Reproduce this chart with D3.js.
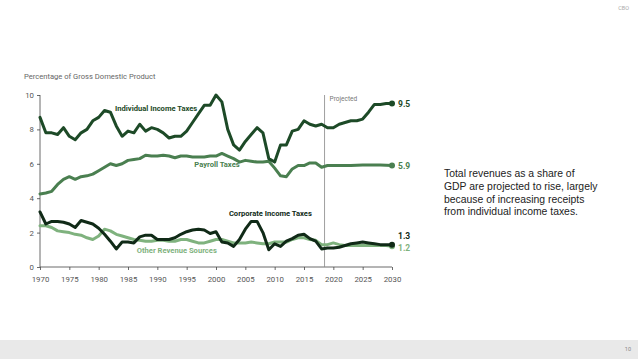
<!DOCTYPE html>
<html><head><meta charset="utf-8">
<script src="https://cdn.jsdelivr.net/npm/d3@7"></script>
<style>
html,body{margin:0;padding:0;background:#fff;}
svg{display:block;}
</style></head>
<body>
<svg id="c" width="638" height="359"></svg>
<script>
const years = d3.range(1970, 2031);
const individual = [8.7,7.8,7.8,7.7,8.1,7.6,7.4,7.8,8.0,8.5,8.7,9.1,9.0,8.2,7.6,7.9,7.8,8.3,7.9,8.1,8.0,7.8,7.5,7.6,7.6,7.9,8.4,8.9,9.4,9.4,10.0,9.6,8.0,7.1,6.8,7.3,7.7,8.1,7.8,6.3,6.1,7.1,7.1,7.9,8.0,8.5,8.3,8.2,8.3,8.1,8.1,8.3,8.4,8.5,8.5,8.6,9.0,9.45,9.45,9.5,9.5];
const payroll = [4.25,4.3,4.4,4.8,5.1,5.25,5.1,5.25,5.3,5.4,5.6,5.8,6.0,5.9,6.0,6.2,6.25,6.3,6.5,6.45,6.45,6.5,6.45,6.35,6.45,6.45,6.4,6.4,6.4,6.45,6.45,6.6,6.45,6.3,6.1,6.2,6.15,6.1,6.1,6.15,5.75,5.3,5.25,5.7,5.9,5.9,6.05,6.05,5.8,5.9,5.9,5.9,5.9,5.9,5.92,5.93,5.93,5.93,5.93,5.92,5.9];
const corporate = [3.2,2.5,2.65,2.65,2.6,2.5,2.3,2.7,2.6,2.5,2.25,1.9,1.5,1.05,1.45,1.45,1.4,1.75,1.85,1.85,1.6,1.6,1.6,1.7,1.9,2.05,2.15,2.2,2.15,1.95,2.05,1.45,1.4,1.2,1.6,2.2,2.65,2.65,2.0,1.0,1.35,1.2,1.5,1.65,1.85,1.9,1.65,1.5,1.05,1.1,1.1,1.15,1.25,1.35,1.4,1.45,1.4,1.35,1.3,1.3,1.3];
const other = [2.4,2.4,2.3,2.1,2.05,2.0,1.9,1.85,1.7,1.6,1.8,2.2,2.1,1.9,1.8,1.7,1.6,1.55,1.5,1.5,1.55,1.55,1.5,1.5,1.6,1.6,1.5,1.4,1.4,1.5,1.6,1.6,1.5,1.4,1.4,1.4,1.45,1.4,1.35,1.35,1.45,1.45,1.45,1.6,1.7,1.7,1.6,1.55,1.3,1.3,1.4,1.3,1.25,1.25,1.25,1.25,1.25,1.25,1.25,1.25,1.2];
const yTicks = [0,2,4,6,8,10];
const xTicks = d3.range(1970, 2031, 5);
const projectedYear = 2018.5;

const series = [
  {name:"Payroll Taxes", values:payroll, color:"#4a7f50", end:"5.9"},
  {name:"Other Revenue Sources", values:other, color:"#7fb27e", end:"1.2"},
  {name:"Corporate Income Taxes", values:corporate, color:"#102a17", end:"1.3"},
  {name:"Individual Income Taxes", values:individual, color:"#1d4a27", end:"9.5"}
];

const svg = d3.select("#c");
const x = d3.scaleLinear().domain([1970, 2030]).range([40, 392]);
const y = d3.scaleLinear().domain([0, 10]).range([267, 95]);
const font = "Roboto, 'Open Sans', sans-serif";

// footer band
svg.append("rect").attr("x",0).attr("y",340).attr("width",638).attr("height",19).attr("fill","#e9e9e9");
svg.append("text").attr("x",631).attr("y",351).attr("text-anchor","end").attr("font-family",font).attr("font-size",5.5).attr("fill","#888").text("10");
svg.append("text").attr("x",629).attr("y",10).attr("text-anchor","end").attr("font-family",font).attr("font-size",5.5).attr("fill","#aaa").text("CBO");

// title
svg.append("text").attr("x",24).attr("y",79).attr("font-family",font).attr("font-size",7.6).attr("fill","#666").text("Percentage of Gross Domestic Product");

// axes
const gy = svg.append("g").attr("transform","translate(40,0)")
  .call(d3.axisLeft(y).tickValues(yTicks).tickSize(3).tickPadding(3).tickFormat(d3.format("d")));
const gx = svg.append("g").attr("transform","translate(0,267)")
  .call(d3.axisBottom(x).tickValues(xTicks).tickSize(3).tickPadding(6).tickFormat(d3.format("d")));
[gy, gx].forEach(g => {
  g.select(".domain").attr("stroke","#444").attr("stroke-width",0.8);
  g.selectAll(".tick line").attr("stroke","#444").attr("stroke-width",0.8);
  g.selectAll(".tick text").attr("font-family",font).attr("font-size",7.8).attr("fill","#555");
});
gy.select(".domain").attr("d","M0,267V95");
gx.select(".domain").attr("d","M40,0H392");

// projected line
svg.append("line").attr("x1",x(projectedYear)).attr("x2",x(projectedYear)).attr("y1",y(10)).attr("y2",y(0))
  .attr("stroke","#888").attr("stroke-width",0.8);
svg.append("text").attr("x",x(projectedYear)+5).attr("y",101).attr("font-family",font).attr("font-size",6.5).attr("fill","#777").text("Projected");

// lines
const line = d3.line().x((d,i)=>x(years[i])).y(d=>y(d)).curve(d3.curveLinear);
series.forEach(s => {
  svg.append("path").datum(s.values).attr("d",line).attr("fill","none")
    .attr("stroke",s.color).attr("stroke-width",3).attr("stroke-linejoin","round").attr("stroke-linecap","round");
  svg.append("circle").attr("cx",x(2030)).attr("cy",y(s.values[s.values.length-1])).attr("r",3).attr("fill",s.color);
});

// end labels
const endLabels = [
  {t:"9.5", v:9.5, dy:3, color:"#1d4a27"},
  {t:"5.9", v:5.9, dy:3, color:"#4a7f50"},
  {t:"1.3", v:1.3, dy:-6, color:"#102a17"},
  {t:"1.2", v:1.2, dy:4.5, color:"#7fb27e"}
];
endLabels.forEach(l => {
  svg.append("text").attr("x",398).attr("y",y(l.v)+l.dy).attr("font-family",font).attr("font-weight","bold")
    .attr("font-size",8.5).attr("fill",l.color).text(l.t);
});

// series labels
const labels = [
  {t:"Individual Income Taxes", yr:1982.8, v:9.07, color:"#1d4a27"},
  {t:"Payroll Taxes", yr:1996.3, v:5.81, color:"#4a7f50"},
  {t:"Corporate Income Taxes", yr:2002.2, v:2.97, color:"#102a17"},
  {t:"Other Revenue Sources", yr:1986.5, v:0.81, color:"#7fb27e"}
];
labels.forEach(l => {
  svg.append("text").attr("x",x(l.yr)).attr("y",y(l.v)).attr("font-family",font).attr("font-weight","bold")
    .attr("font-size",7.6).attr("fill",l.color).text(l.t);
});

// side text
const side = ["Total revenues as a share of","GDP are projected to rise, largely","because of increasing receipts","from individual income taxes."];
const st = svg.append("text").attr("font-family","'Liberation Sans', Arial, sans-serif").attr("font-size",10.4).attr("fill","#222");
side.forEach((s,i)=> st.append("tspan").attr("x",444).attr("y",177+i*12.8).text(s));
</script>
</body></html>
